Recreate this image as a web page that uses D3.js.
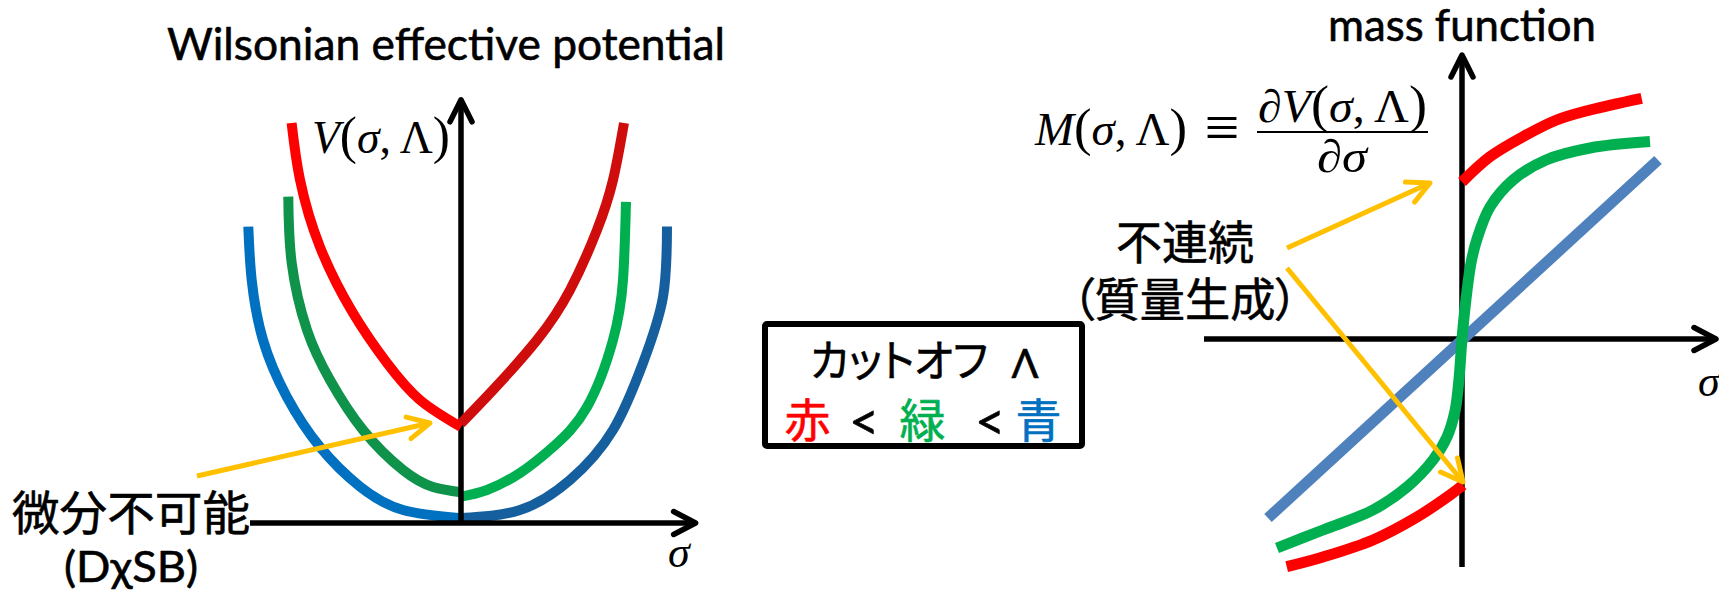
<!DOCTYPE html>
<html lang="ja">
<head>
<meta charset="utf-8">
<title>Wilsonian effective potential / mass function</title>
<script src="https://cdn.jsdelivr.net/npm/d3@7/dist/d3.min.js"></script>
<style>
  html, body { margin: 0; padding: 0; background: #ffffff; }
  svg { display: block; }
  .sans { font-family: Lato, "Open Sans", "DejaVu Sans", sans-serif; }
  .jp   { font-family: "Noto Sans CJK JP", "Noto Sans", sans-serif; font-feature-settings: "palt"; }
  .math { font-family: "Liberation Serif", "DejaVu Serif", serif; }
  .heavy { paint-order: stroke; stroke-width: 0.6px; stroke-linejoin: round; }
</style>
</head>
<body>
<svg id="fig" width="1719" height="592" xmlns="http://www.w3.org/2000/svg"></svg>
<script>
// ---------- V(σ, Λ): one branch on each side of σ = 0, per cutoff ----------
const potRedLeft    = [[-0.847, 1.0], [-0.805, 0.858], [-0.705, 0.69], [-0.54, 0.525], [-0.37, 0.40], [-0.205, 0.3075], [0, 0.24]];
const potRedRight   = [[0, 0.249], [0.16, 0.3325], [0.38, 0.4575], [0.545, 0.5825], [0.68, 0.7325], [0.76, 0.8575], [0.815, 1.0]];
const potGreenLeft  = [[-0.8635, 0.816], [-0.8465, 0.65], [-0.77, 0.4825], [-0.655, 0.3575], [-0.49, 0.2325], [-0.29, 0.1325], [-0.14, 0.09], [0, 0.077]];
const potGreenRight = [[0, 0.066], [0.13, 0.0825], [0.295, 0.125], [0.46, 0.19], [0.63, 0.29], [0.76, 0.4575], [0.81, 0.6075], [0.825, 0.803]];
const potBlueLeft   = [[-1.0635, 0.741], [-1.0465, 0.6075], [-0.99, 0.4575], [-0.8715, 0.316], [-0.705, 0.19], [-0.505, 0.091], [-0.29, 0.0325], [0, 0.012]];
const potBlueRight  = [[0, 0.0125], [0.295, 0.0325], [0.545, 0.1075], [0.76, 0.2325], [0.91, 0.4], [1.01, 0.565], [1.03, 0.741]];

// ---------- M(σ, Λ) = ∂V/∂σ ----------
const massRedUpper = [[0, 0.785], [0.14, 0.9115], [0.305, 1.0115], [0.4735, 1.095], [0.64, 1.145], [0.8985, 1.2035]];
const massRedLower = [[-0.8765, -1.1385], [-0.695, -1.09], [-0.445, -1.005], [-0.225, -0.89], [-0.06, -0.78], [0.005, -0.73]];
const massGreen    = [[-0.925, -1.045], [-0.695, -0.955], [-0.445, -0.855], [-0.275, -0.74], [-0.145, -0.605], [-0.075, -0.49],
                      [-0.035, -0.36], [-0.015, -0.2], [0, 0], [0.02, 0.2], [0.045, 0.38], [0.075, 0.5], [0.14, 0.66],
                      [0.255, 0.795], [0.42, 0.895], [0.64, 0.955], [0.94, 0.987]];
const massBlue     = [[-0.97, -0.895], [0.98, 0.895]];

// axis extents (data units)
const potAxisSigma  = [-1.055, 1.173];
const potAxisV      = [0, 1.058];
const massAxisSigma = [-1.29, 1.27];
const massAxisM     = [-1.14, 1.42];

// annotation arrows (data units: tail, head)
const potNoteTail  = [-1.32, 0.1175];
const potNoteHead  = [-0.155, 0.25];
const massNoteTail = [[-0.875, 0.455], [-0.875, 0.355]];
const massNoteHead = [[-0.16, 0.78], [0.005, -0.715]];

// key: ordering of the cutoff Λ
const cutoffNames  = ["赤", "緑", "青"];
const cutoffColors = ["#ff0000", "#00b050", "#0070c0"];

// ---------- drawing ----------
const svg = d3.select("#fig");

const xPot  = d3.scaleLinear().domain([-1, 1]).range([261, 661]);
const yPot  = d3.scaleLinear().domain([0, 1]).range([523, 123]);
const xMass = d3.scaleLinear().domain([-1, 1]).range([1262, 1662]);
const yMass = d3.scaleLinear().domain([-1, 1]).range([539, 139]);

const lineOf = (xs, ys, c) => d3.line().x(d => xs(d[0])).y(d => ys(d[1])).curve(c);
const smoothPot  = d3.curveNatural;
const smoothMass = d3.curveCatmullRom.alpha(0.5);

function curve(g, data, xs, ys, c, color, width) {
  g.append("path")
    .attr("d", lineOf(xs, ys, c)(data))
    .attr("fill", "none")
    .attr("stroke", color)
    .attr("stroke-width", width)
    .attr("stroke-linecap", "butt")
    .attr("stroke-linejoin", "round");
}

function chevron(g, from, tip, back, half, color, width) {
  const dx = tip[0] - from[0], dy = tip[1] - from[1];
  const L = Math.hypot(dx, dy), ux = dx / L, uy = dy / L, nx = -uy, ny = ux;
  const a = [tip[0] - ux * back + nx * half, tip[1] - uy * back + ny * half];
  const b = [tip[0] - ux * back - nx * half, tip[1] - uy * back - ny * half];
  g.append("path")
    .attr("d", d3.line()([a, tip, b]))
    .attr("fill", "none")
    .attr("stroke", color)
    .attr("stroke-width", width)
    .attr("stroke-linecap", "round")
    .attr("stroke-linejoin", "round");
}

function arrow(g, p0, p1, color, width, back, half) {
  g.append("line")
    .attr("x1", p0[0]).attr("y1", p0[1]).attr("x2", p1[0]).attr("y2", p1[1])
    .attr("stroke", color).attr("stroke-width", width).attr("stroke-linecap", "butt");
  chevron(g, p0, p1, back, half, color, width);
}

function axes(g, xs, ys, xExt, yExt) {
  arrow(g, [xs(xExt[0]), ys(0)], [xs(xExt[1]), ys(0)], "#000", 5.5, 22, 11.5);
  arrow(g, [xs(0), ys(yExt[0])], [xs(0), ys(yExt[1])], "#000", 5.5, 22, 11);
}

// ----- left panel: potential -----
const left = svg.append("g");
curve(left, potGreenLeft,  xPot, yPot, smoothPot, "#0f9249", 10);
curve(left, potGreenRight, xPot, yPot, smoothPot, "#00b050", 10);
curve(left, potBlueLeft,   xPot, yPot, smoothPot, "#0070c0", 10);
curve(left, potBlueRight,  xPot, yPot, smoothPot, "#155f9f", 10);
axes(left, xPot, yPot, potAxisSigma, potAxisV);
curve(left, potRedLeft,    xPot, yPot, smoothPot, "#ff0000", 10);
curve(left, potRedRight,   xPot, yPot, smoothPot, "#cf0d0d", 10);
arrow(left, [xPot(potNoteTail[0]), yPot(potNoteTail[1])], [xPot(potNoteHead[0]), yPot(potNoteHead[1])], "#ffc000", 5, 22, 11);

// ----- right panel: mass function -----
const right = svg.append("g");
axes(right, xMass, yMass, massAxisSigma, massAxisM);
curve(right, massBlue,     xMass, yMass, smoothMass, "#4f81bd", 11);
curve(right, massGreen,    xMass, yMass, smoothMass, "#00b050", 11);
curve(right, massRedUpper, xMass, yMass, smoothMass, "#ff0000", 11);
curve(right, massRedLower, xMass, yMass, smoothMass, "#ff0000", 11);
massNoteTail.forEach((t, i) => {
  const h = massNoteHead[i];
  arrow(right, [xMass(t[0]), yMass(t[1])], [xMass(h[0]), yMass(h[1])], "#ffc000", 5, 22, 11);
});

// ----- titles -----
svg.append("text").attr("class", "sans heavy")
  .attr("x", 446).attr("y", 60).attr("text-anchor", "middle")
  .attr("font-size", 44).attr("fill", "#000").attr("stroke", "#000")
  .attr("textLength", 558).attr("lengthAdjust", "spacingAndGlyphs")
  .text("Wilsonian effective potential");

svg.append("text").attr("class", "sans heavy")
  .attr("x", 1462).attr("y", 41).attr("text-anchor", "middle")
  .attr("font-size", 44).attr("fill", "#000").attr("stroke", "#000")
  .attr("textLength", 268).attr("lengthAdjust", "spacingAndGlyphs")
  .text("mass function");

// ----- math labels -----
function mathText(x, y, size, parts, len) {
  const t = svg.append("text").attr("class", "math")
    .attr("x", x).attr("y", y).attr("font-size", size).attr("fill", "#000");
  if (len) t.attr("textLength", len).attr("lengthAdjust", "spacingAndGlyphs");
  parts.forEach(([s, it, sz]) => {
    const sp = t.append("tspan").attr("font-style", it ? "italic" : "normal").text(s);
    if (sz) sp.attr("font-size", sz);
  });
  return t;
}
mathText(312, 153, 46, [["V", 1], ["(", 0, 52], ["σ", 1], [", Λ", 0], [")", 0, 52]], 138);

mathText(1035, 145, 47, [["M", 1], ["(", 0, 53], ["σ", 1], [", Λ", 0], [")", 0, 53]], 152);
svg.append("text").attr("class", "math").attr("x", 1222).attr("y", 148)
  .attr("text-anchor", "middle").attr("font-size", 62).text("≡");
mathText(1258, 122, 46, [["∂", 1], ["V", 1], ["(", 0, 52], ["σ", 1], [", Λ", 0], [")", 0, 52]], 169);
svg.append("line").attr("x1", 1257).attr("x2", 1428).attr("y1", 132).attr("y2", 132)
  .attr("stroke", "#000").attr("stroke-width", 1.8);
mathText(1317, 172, 46, [["∂", 1], ["σ", 1]], 50);

// axis symbols σ
mathText(668, 567, 44, [["σ", 1]]);
mathText(1698, 396, 44, [["σ", 1]]);

// ----- Japanese annotations -----
svg.append("text").attr("class", "jp heavy").attr("x", 12).attr("y", 530)
  .attr("font-size", 47).attr("stroke", "#000")
  .attr("textLength", 238).attr("lengthAdjust", "spacingAndGlyphs")
  .text("微分不可能");
svg.append("text").attr("class", "sans heavy").attr("x", 131).attr("y", 582)
  .attr("text-anchor", "middle").attr("font-size", 43).attr("stroke", "#000")
  .attr("textLength", 134).attr("lengthAdjust", "spacingAndGlyphs")
  .text("(DχSB)");

svg.append("text").attr("class", "jp heavy").attr("x", 1185).attr("y", 259)
  .attr("text-anchor", "middle").attr("font-size", 46).attr("stroke", "#000").text("不連続");
svg.append("text").attr("class", "jp heavy").attr("x", 1185).attr("y", 316)
  .attr("text-anchor", "middle").attr("font-size", 46).attr("stroke", "#000")
  .attr("textLength", 226).attr("lengthAdjust", "spacingAndGlyphs").text("（質量生成）");

// ----- key box -----
const key = svg.append("g");
key.append("rect").attr("x", 765).attr("y", 324).attr("width", 317).attr("height", 122)
  .attr("rx", 2).attr("fill", "#fff").attr("stroke", "#000").attr("stroke-width", 6);
key.append("text").attr("class", "jp heavy").attr("x", 810).attr("y", 377)
  .attr("font-size", 44).attr("stroke", "#000")
  .attr("textLength", 178).attr("lengthAdjust", "spacingAndGlyphs")
  .text("カットオフ");
key.append("text").attr("class", "sans heavy").attr("x", 1025).attr("y", 378)
  .attr("text-anchor", "middle").attr("font-size", 40).attr("stroke", "#000").text("Λ");

const nameX = [807.5, 922.5, 1038.5];
const lessX = [864, 990];
cutoffNames.forEach((n, i) => {
  key.append("text").attr("class", "jp heavy").attr("x", nameX[i]).attr("y", 437)
    .attr("text-anchor", "middle").attr("font-size", 46)
    .attr("fill", cutoffColors[i]).attr("stroke", cutoffColors[i]).text(n);
});
lessX.forEach(x => {
  key.append("text").attr("class", "sans heavy").attr("x", x).attr("y", 440)
    .attr("text-anchor", "middle").attr("font-size", 52)
    .attr("fill", "#000").attr("stroke", "#000").text("<");
});
</script>
</body>
</html>
